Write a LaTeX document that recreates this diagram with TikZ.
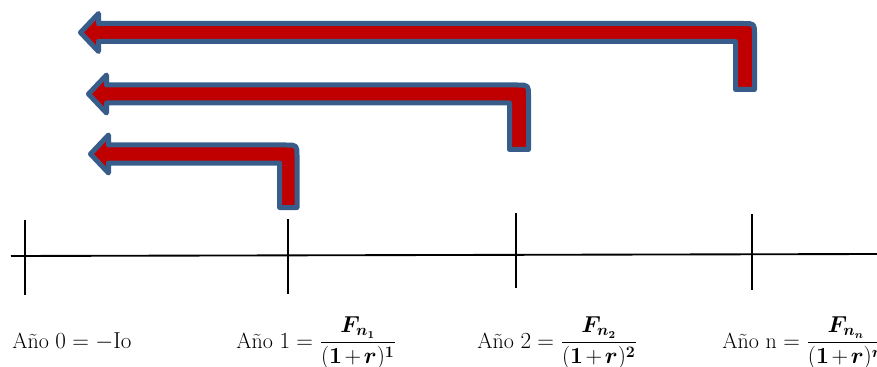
\documentclass[tikz,border=0pt]{standalone}
\usepackage{amsmath,bm}
\definecolor{arrowred}{RGB}{192,0,0}
\definecolor{arrowblue}{RGB}{56,93,138}
\tikzset{
  bentarrow/.style={fill=arrowred,draw=arrowblue,line width=3.75pt,line join=round},
  axisline/.style={line width=1.4pt},
  yearlabel/.style={anchor=base west,inner sep=0pt,font=\fontsize{16.5}{19}\selectfont}
}
\newcommand\denpart[1]{(\mathbf{1}\mkern-2mu+\mkern-2mu\bm{r})^{#1}}
% tip x, centre y, leg left x, leg right x, leg bottom y
\newcommand\bentarr[5]{%
  \draw[bentarrow] (#1,#2) -- (#1+18,#2-19) -- (#1+18,#2-9) -- (#4-11,#2-9)
    .. controls (#4,#2-9) .. (#4,#2+2) -- (#4,#5) -- (#3,#5) -- (#3,#2+9)
    -- (#1+18,#2+9) -- (#1+18,#2+19) -- cycle;}
\begin{document}
\begin{tikzpicture}[x=0.75pt,y=-0.75pt]
\useasboundingbox (0,0) rectangle (877,367);
% arrows
\bentarr{80.5}{32.5}{735.5}{754.5}{89.5}
\bentarr{88.5}{94}{509.5}{528.5}{149.5}
\bentarr{90.5}{154}{279.5}{297}{207.5}
% axis
\coordinate (L) at (11,256);
\coordinate (R) at (877,254);
\draw[axisline] (L) -- (R);
\coordinate (t0a) at (25,220); \coordinate (t0b) at (25,295);
\coordinate (t1a) at (288,219); \coordinate (t1b) at (288,294);
\coordinate (t2a) at (516,213); \coordinate (t2b) at (516,288);
\coordinate (t3a) at (752,214); \coordinate (t3b) at (752,290);
\draw[axisline] (t0a) -- (t0b);
\draw[axisline] (t1a) -- (t1b);
\draw[axisline] (t2a) -- (t2b);
\draw[axisline] (t3a) -- (t3b);
% labels
\node[yearlabel] (y0) at (12,348) {Año $0=-\mathrm{Io}$};
\node[yearlabel] (y1) at (236,348) {Año $1=\dfrac{\bm{F_{n_1}}}{\denpart{\mathbf{1}}}$};
\node[yearlabel] (y2) at (477,348) {Año $2=\dfrac{\bm{F_{n_2}}}{\denpart{\mathbf{2}}}$};
\node[yearlabel] (y3) at (722,348) {Año n $=\dfrac{\bm{F_{n_n}}}{\denpart{\bm{n}}}$};
\end{tikzpicture}
\end{document}
